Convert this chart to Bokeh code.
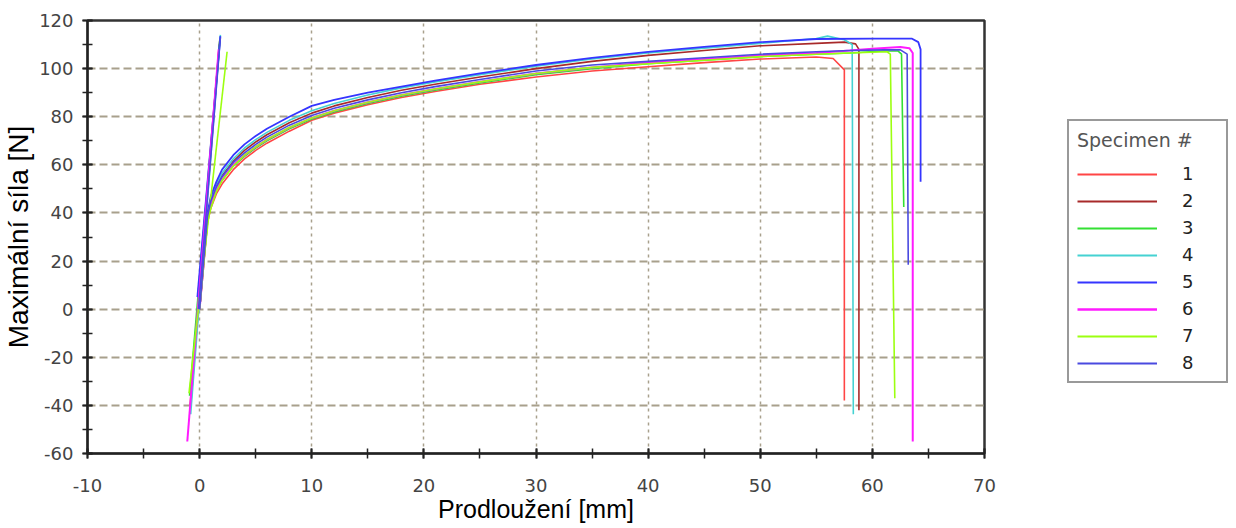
from bokeh.plotting import figure
from bokeh.layouts import row
from bokeh.models import Legend, LegendItem, SingleIntervalTicker, PrintfTickFormatter
from bokeh.embed import file_html
from bokeh.resources import INLINE

# ---------------- data ----------------
x_label = "Prodloužení [mm]"
y_label = "Maximální síla [N]"
legend_title = "Specimen #"
specimens = ["1", "2", "3", "4", "5", "6", "7", "8"]
colors = ["#ff4545", "#a82a2a", "#33e033", "#45d2d2", "#3535ff", "#ff1aff", "#9cff10", "#4a4ae0"]

# shared elongation grid for the main part of each curve [mm]
x_common = [0, 0.3, 0.7, 1, 1.5, 2, 3, 4, 5, 6, 8, 10, 12, 15, 18, 21, 25, 30, 35, 40, 45, 50, 55]

# force values [N] on x_common
y_spec1 = [0, 15, 36, 42, 48, 52, 58, 62.5, 66, 69, 74, 78.5, 81.5, 85, 88, 90.5, 93.5, 96.5, 99, 100.8, 102.5, 104, 104.8]
y_spec2 = [0, 17, 39, 45, 51, 55.5, 61.5, 66, 69.5, 72.5, 77.5, 81.5, 84.5, 88, 91, 93.5, 96.5, 100, 103, 105.5, 107.5, 109.5, 110.5]
y_spec3 = [0, 16, 37, 43, 49.5, 53.5, 59.5, 63.5, 67, 70, 75, 79, 82, 85.5, 88.5, 91, 94, 97.5, 100, 102, 103.5, 105, 106]
y_spec4 = [0, 17, 39, 46, 52, 56.5, 62.5, 67, 70.5, 73.5, 78.5, 82.5, 85.5, 89, 92, 94.5, 97.5, 101, 104, 106.5, 108.5, 110.5, 112.5]
y_spec5 = [0, 18, 40, 47, 53, 58, 64, 68.5, 72, 75, 80, 84.5, 87, 90, 92.5, 95, 98, 101.5, 104.5, 107, 109, 111, 112.3]
y_spec6 = [0, 16, 38, 44, 50, 54, 60, 64, 67.5, 70.5, 75.5, 79.5, 82.5, 86, 89, 91.5, 94.5, 98, 100.5, 102.5, 104, 105.5, 106.5]
y_spec7 = [0, 16, 36, 42, 49, 53.5, 59.5, 64, 67.5, 70.5, 75.5, 79.5, 82.5, 86, 89, 91.5, 94.5, 98, 100.5, 102, 103.5, 105, 106]
y_spec8 = [0, 17, 38.5, 45, 51, 55, 61, 65, 68.5, 71.5, 76.5, 80.5, 83.5, 87, 90, 92.5, 95.5, 99, 101.5, 103, 104.5, 106, 107]

# end of each curve (plateau and break)
tail_x_spec1 = [56.5, 57.5, 57.5]
tail_y_spec1 = [104.2, 99.5, -38]
tail_x_spec2 = [57.5, 58.5, 58.8, 58.8]
tail_y_spec2 = [111, 110.3, 108, -42]
tail_x_spec3 = [58, 61, 62.3, 62.6, 62.8]
tail_y_spec3 = [106.5, 107.3, 107.3, 106, 42.5]
tail_x_spec4 = [56, 57.5, 58.2, 58.3]
tail_y_spec4 = [113.5, 112, 110, -43.7]
tail_x_spec5 = [60, 63.5, 64.1, 64.3, 64.3]
tail_y_spec5 = [112.5, 112.5, 111, 108, 53]
tail_x_spec6 = [58, 60, 62.5, 63.3, 63.6, 63.6]
tail_y_spec6 = [107.5, 108.3, 109, 108.5, 106.5, -55]
tail_x_spec7 = [58, 61.3, 61.6, 62.0]
tail_y_spec7 = [106.5, 107, 106, -37]
tail_x_spec8 = [58, 61, 62.5, 63.1, 63.2]
tail_y_spec8 = [107.5, 107.8, 107.8, 106, 18.5]

# straight modulus lines (two end points each)
fit_x_spec1 = [-0.85, 1.75]
fit_y_spec1 = [-40, 110]
fit_x_spec2 = [-0.8, 1.8]
fit_y_spec2 = [-40, 112]
fit_x_spec3 = [-0.9, 1.8]
fit_y_spec3 = [-36, 112]
fit_x_spec4 = [-0.8, 1.85]
fit_y_spec4 = [-43.7, 114]
fit_x_spec5 = [-0.2, 1.85]
fit_y_spec5 = [5, 113.5]
fit_x_spec6 = [-1.1, 1.7]
fit_y_spec6 = [-55, 108]
fit_x_spec7 = [-0.95, 2.45]
fit_y_spec7 = [-35, 107]
fit_x_spec8 = [-0.1, 1.85]
fit_y_spec8 = [0, 113]

curves_y = [y_spec1, y_spec2, y_spec3, y_spec4, y_spec5, y_spec6, y_spec7, y_spec8]
tails_x = [tail_x_spec1, tail_x_spec2, tail_x_spec3, tail_x_spec4, tail_x_spec5, tail_x_spec6, tail_x_spec7, tail_x_spec8]
tails_y = [tail_y_spec1, tail_y_spec2, tail_y_spec3, tail_y_spec4, tail_y_spec5, tail_y_spec6, tail_y_spec7, tail_y_spec8]
fits_x = [fit_x_spec1, fit_x_spec2, fit_x_spec3, fit_x_spec4, fit_x_spec5, fit_x_spec6, fit_x_spec7, fit_x_spec8]
fits_y = [fit_y_spec1, fit_y_spec2, fit_y_spec3, fit_y_spec4, fit_y_spec5, fit_y_spec6, fit_y_spec7, fit_y_spec8]
widths = [1.6, 1.6, 1.6, 1.6, 1.8, 2.0, 1.6, 1.6]

# ---------------- main figure ----------------
p = figure(width=1000, height=528,
           x_range=(-10, 70), y_range=(-60, 120),
           min_border_left=85, min_border_right=16,
           min_border_top=20, min_border_bottom=75,
           output_backend="svg", toolbar_location=None,
           background_fill_color="white", border_fill_color="white")

p.outline_line_color = "#333333"
p.outline_line_width = 2.5

p.xaxis.ticker = SingleIntervalTicker(interval=10, num_minor_ticks=2)
p.yaxis.ticker = SingleIntervalTicker(interval=20, num_minor_ticks=2)
p.xaxis.formatter = PrintfTickFormatter(format="%d")
p.yaxis.formatter = PrintfTickFormatter(format="%d")

for ax in (p.xaxis, p.yaxis):
    ax.axis_line_color = "#222222"
    ax.axis_line_width = 2
    ax.major_tick_line_color = "#222222"
    ax.major_tick_line_width = 2
    ax.minor_tick_line_color = "#222222"
    ax.minor_tick_line_width = 1.5
    ax.major_tick_in = 5
    ax.major_tick_out = 5
    ax.minor_tick_in = 5
    ax.minor_tick_out = 5
    ax.major_label_text_font = "DejaVu Sans"
    ax.major_label_text_font_size = "18px"
    ax.major_label_text_color = "#444444"
    ax.axis_label_text_font = "Liberation Sans"
    ax.axis_label_text_font_style = "normal"
    ax.axis_label_text_color = "#000000"

p.xaxis.axis_label = x_label
p.yaxis.axis_label = y_label
p.xaxis.axis_label_text_font_size = "25px"
p.yaxis.axis_label_text_font_size = "28px"
p.xaxis.major_label_standoff = 20
p.yaxis.major_label_standoff = 9
p.xaxis.axis_label_standoff = 0
p.yaxis.axis_label_standoff = 2

p.xgrid.ticker = SingleIntervalTicker(interval=10)
p.ygrid.ticker = SingleIntervalTicker(interval=20)
p.xgrid.grid_line_color = "#a8a08c"
p.xgrid.grid_line_dash = "3 4"
p.xgrid.grid_line_width = 1.5
p.ygrid.grid_line_color = "#a8a08c"
p.ygrid.grid_line_dash = "8 4"
p.ygrid.grid_line_width = 2

for i, name in enumerate(specimens):
    xs = list(x_common) + list(tails_x[i])
    ys = list(curves_y[i]) + list(tails_y[i])
    p.line(xs, ys, line_color=colors[i], line_width=widths[i])
    p.line(fits_x[i], fits_y[i], line_color=colors[i], line_width=widths[i])

# ---------------- legend panel ----------------
q = figure(width=236, height=528, x_range=(0, 1), y_range=(0, 1),
           min_border_left=0, min_border_right=0, min_border_top=0, min_border_bottom=0,
           x_axis_type=None, y_axis_type=None,
           output_backend="svg", toolbar_location=None,
           background_fill_color="white", border_fill_color="white")
q.outline_line_color = None
q.xgrid.visible = False
q.ygrid.visible = False

items = []
for i, name in enumerate(specimens):
    # keyed to the legend only; its points lie outside the panel's range
    r = q.line(x=[5, 6], y=[5, 6], line_color=colors[i], line_width=widths[i] + 0.4)
    items.append(LegendItem(label=name, renderers=[r]))

legend = Legend(items=items, location=(67, 70))
legend.title = legend_title
legend.title_text_font = "DejaVu Sans"
legend.title_text_font_size = "19px"
legend.title_text_color = "#555555"
legend.title_text_font_style = "normal"
legend.title_standoff = 12
legend.label_text_font = "DejaVu Sans"
legend.label_text_font_size = "18px"
legend.label_text_color = "#222222"
legend.glyph_width = 80
legend.glyph_height = 20
legend.label_height = 20
legend.label_width = 36
legend.label_standoff = 25
legend.spacing = 6
legend.padding = 8
legend.margin = 0
legend.border_line_color = "#333333"
legend.border_line_width = 2
legend.background_fill_color = "white"
legend.background_fill_alpha = 1.0
q.add_layout(legend, "center")

layout = row(p, q, spacing=0)
open("out.html", "w").write(file_html(layout, INLINE))
